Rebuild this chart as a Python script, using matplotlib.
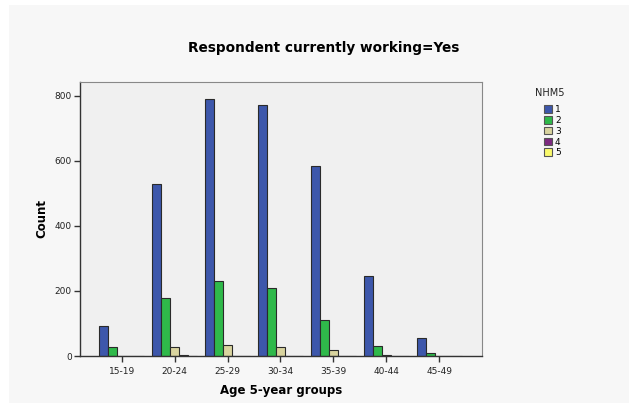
import matplotlib
matplotlib.use("agg")
import matplotlib.pyplot as plt
from matplotlib.patches import Rectangle, Patch
import numpy as np

# age groups and counts per NHM5 category
age_groups = ["15-19", "20-24", "25-29", "30-34", "35-39", "40-44", "45-49"]
nhm5_labels = ["1", "2", "3", "4", "5"]
nhm5_1 = [92, 529, 791, 772, 585, 246, 55]
nhm5_2 = [28, 178, 231, 209, 111, 31, 9]
nhm5_3 = [1, 28, 34, 27, 17, 3, 1]
nhm5_4 = [0, 3, 1, 1, 0, 0, 0]
nhm5_5 = [0, 0, 0, 1, 0, 0, 0]
series = [nhm5_1, nhm5_2, nhm5_3, nhm5_4, nhm5_5]
colors = ["#3d57ab", "#2fb94a", "#d9d49f", "#7d2a80", "#fafa6c"]

W, H = 629, 403
fig = plt.figure(figsize=(W / 100, H / 100), dpi=100, facecolor="white")
# light grey panel behind the chart
fig.patches.append(Rectangle((9 / W, 0), 1 - 9 / W, 1 - 5 / H,
                             transform=fig.transFigure, facecolor="#f7f7f7",
                             edgecolor="none", zorder=-1))

ax = fig.add_axes([80 / W, 1 - 356 / H, 402 / W, 274 / H])
ax.set_facecolor("#f0f0f0")

x = np.arange(len(age_groups))
bw = 0.17
for i, (vals, col) in enumerate(zip(series, colors)):
    ax.bar(x + (i - 2) * bw, vals, width=bw, color=col, edgecolor="#2a2a2a",
           linewidth=0.8, label=nhm5_labels[i])

ax.set_xlim(-0.79, 6.81)
ax.set_ylim(0, 843)
ax.set_yticks([0, 200, 400, 600, 800])
ax.set_xticks(x)
ax.set_xticklabels(age_groups)
ax.tick_params(axis="both", labelsize=6.5, length=4, width=1, color="#333333",
               labelcolor="#222222", pad=2)
ax.tick_params(axis="x", pad=4)

for s in ["left", "bottom"]:
    ax.spines[s].set_color("#333333")
    ax.spines[s].set_linewidth(1.0)
for s in ["top", "right"]:
    ax.spines[s].set_color("#888888")
    ax.spines[s].set_linewidth(0.8)

ax.set_xlabel("Age 5-year groups", fontsize=8.5, fontweight="bold", labelpad=6)
ax.set_ylabel("Count", fontsize=8.5, fontweight="bold", labelpad=4)
fig.text(324 / W, 1 - 48 / H, "Respondent currently working=Yes",
         ha="center", va="center", fontsize=9.8, fontweight="bold")

# legend title drawn separately, it sits left of the swatches
fig.text(535 / W, 1 - 93 / H, "NHM5", ha="left", va="center", fontsize=7,
         color="#222222")
handles = [Patch(facecolor=c, edgecolor="#555555", linewidth=0.8) for c in colors]
leg = fig.legend(handles, nhm5_labels, loc="upper left",
                 bbox_to_anchor=(536 / W, 1 - 97 / H), frameon=False,
                 fontsize=6.5, handlelength=0.9, handleheight=0.9,
                 handletextpad=0.3, labelspacing=0.2)

fig.savefig("out.png", dpi=100, facecolor=fig.get_facecolor())
